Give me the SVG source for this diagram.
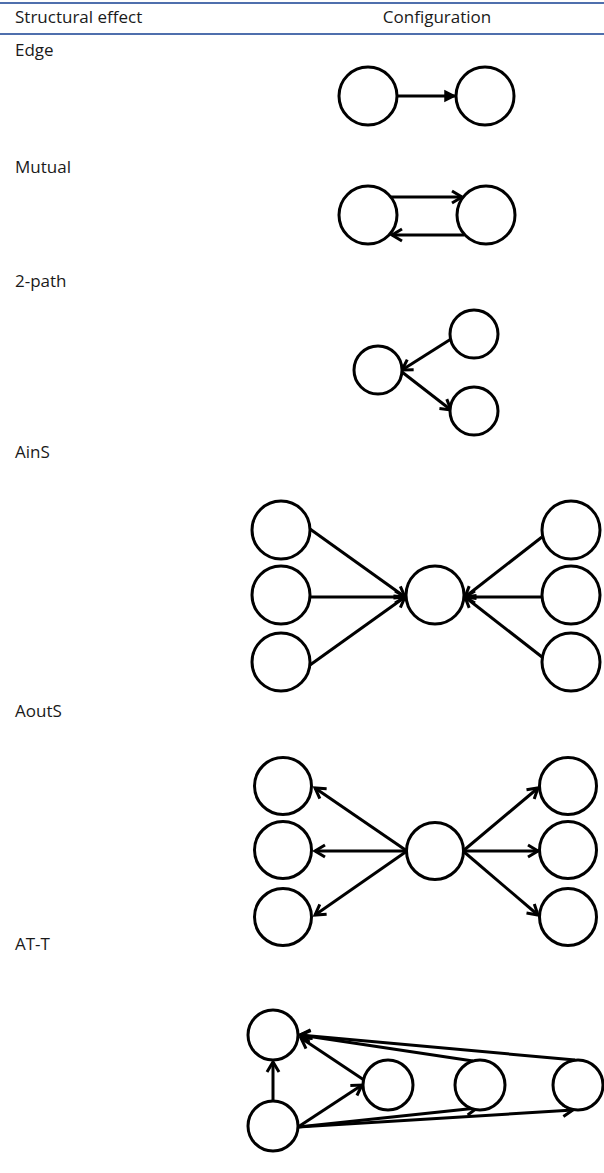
<svg xmlns="http://www.w3.org/2000/svg" width="604" height="1173" viewBox="0 0 604 1173">
<style>
.hdr{stroke:#4f6fad;stroke-width:2}
.t{font-family:"Open Sans","Noto Sans","DejaVu Sans",sans-serif;font-size:17px;fill:#1a1a1a}
.n{fill:#fff;stroke:#000;stroke-width:3}
.c{stroke:#000;stroke-width:3;fill:none}
</style>
<defs>
<marker id="chev" markerUnits="userSpaceOnUse" orient="auto" overflow="visible" refX="0" refY="0" markerWidth="20" markerHeight="20">
<path d="M-10,-6 L0,0 L-10,6" fill="none" stroke="#000" stroke-width="3"/>
</marker>
<marker id="tri" markerUnits="userSpaceOnUse" orient="auto" overflow="visible" refX="0" refY="0" markerWidth="20" markerHeight="20">
<path d="M-10,-5 L0,0 L-10,5 Z" fill="#000" stroke="#000" stroke-width="1.5"/>
</marker>
</defs>
<rect width="604" height="1173" fill="#fff"/>
<g id="header">
<line class="hdr" x1="0" y1="3" x2="604" y2="3"/>
<line class="hdr" x1="0" y1="34" x2="604" y2="34"/>
<text class="t" x="15" y="23">Structural effect</text>
<text class="t" x="437" y="23" text-anchor="middle">Configuration</text>
</g>
<g id="labels">
<text class="t" x="15" y="56">Edge</text>
<text class="t" x="15" y="173">Mutual</text>
<text class="t" x="15" y="287">2-path</text>
<text class="t" x="15" y="458">AinS</text>
<text class="t" x="15" y="717">AoutS</text>
<text class="t" x="15" y="950">AT-T</text>
</g>
<g id="connectors">
<line class="c" x1="397" y1="96" x2="455" y2="96" marker-end="url(#tri)"/>
<line class="c" x1="391" y1="197" x2="462" y2="197" marker-end="url(#chev)"/>
<line class="c" x1="464" y1="235" x2="392" y2="235" marker-end="url(#chev)"/>
<line class="c" x1="451" y1="339" x2="402" y2="370" marker-end="url(#chev)"/>
<line class="c" x1="402" y1="372" x2="451" y2="410" marker-end="url(#chev)"/>
<line class="c" x1="310" y1="529" x2="405" y2="597" marker-end="url(#chev)"/>
<line class="c" x1="310" y1="597" x2="405" y2="597" marker-end="url(#chev)"/>
<line class="c" x1="310" y1="665" x2="405" y2="597" marker-end="url(#chev)"/>
<line class="c" x1="542" y1="537" x2="465" y2="597" marker-end="url(#chev)"/>
<line class="c" x1="542" y1="597" x2="465" y2="597" marker-end="url(#chev)"/>
<line class="c" x1="542" y1="657" x2="465" y2="597" marker-end="url(#chev)"/>
<line class="c" x1="407" y1="851" x2="315" y2="788" marker-end="url(#chev)"/>
<line class="c" x1="407" y1="851" x2="315" y2="851" marker-end="url(#chev)"/>
<line class="c" x1="407" y1="851" x2="315" y2="915" marker-end="url(#chev)"/>
<line class="c" x1="463" y1="851" x2="538" y2="788" marker-end="url(#chev)"/>
<line class="c" x1="463" y1="851" x2="538" y2="851" marker-end="url(#chev)"/>
<line class="c" x1="463" y1="851" x2="538" y2="915" marker-end="url(#chev)"/>
<line class="c" x1="273" y1="1101" x2="273" y2="1062" marker-end="url(#chev)"/>
<line class="c" x1="364" y1="1080" x2="301" y2="1038" marker-end="url(#chev)"/>
<line class="c" x1="473" y1="1061" x2="300" y2="1035" marker-end="url(#chev)"/>
<line class="c" x1="575" y1="1060" x2="300" y2="1035" marker-end="url(#chev)"/>
<line class="c" x1="298" y1="1127" x2="362" y2="1085" marker-end="url(#chev)"/>
<line class="c" x1="298" y1="1127" x2="477" y2="1108" marker-end="url(#chev)"/>
<line class="c" x1="298" y1="1127" x2="573" y2="1110" marker-end="url(#chev)"/>
</g>
<g id="edge">
<circle class="n" cx="368" cy="96" r="29"/>
<circle class="n" cx="485" cy="96" r="29"/>
</g>
<g id="mutual">
<circle class="n" cx="368" cy="215" r="29"/>
<circle class="n" cx="486" cy="215" r="29"/>
</g>
<g id="twopath">
<circle class="n" cx="378" cy="370" r="24"/>
<circle class="n" cx="474" cy="334" r="24"/>
<circle class="n" cx="474" cy="411" r="24"/>
</g>
<g id="ains">
<circle class="n" cx="281" cy="530" r="29"/>
<circle class="n" cx="281" cy="595" r="29"/>
<circle class="n" cx="281" cy="662" r="29"/>
<circle class="n" cx="435" cy="595" r="29"/>
<circle class="n" cx="571" cy="530" r="29"/>
<circle class="n" cx="571" cy="595" r="29"/>
<circle class="n" cx="571" cy="662" r="29"/>
</g>
<g id="aouts">
<circle class="n" cx="283" cy="786" r="28.5"/>
<circle class="n" cx="283" cy="850" r="28.5"/>
<circle class="n" cx="283" cy="917" r="28.5"/>
<circle class="n" cx="435" cy="851" r="28.5"/>
<circle class="n" cx="568" cy="786" r="28.5"/>
<circle class="n" cx="568" cy="850" r="28.5"/>
<circle class="n" cx="568" cy="917" r="28.5"/>
</g>
<g id="att">
<circle class="n" cx="273" cy="1035" r="25"/>
<circle class="n" cx="273" cy="1126" r="25"/>
<circle class="n" cx="388" cy="1085" r="25"/>
<circle class="n" cx="480" cy="1085" r="25"/>
<circle class="n" cx="578" cy="1085" r="25"/>
</g>
</svg>
